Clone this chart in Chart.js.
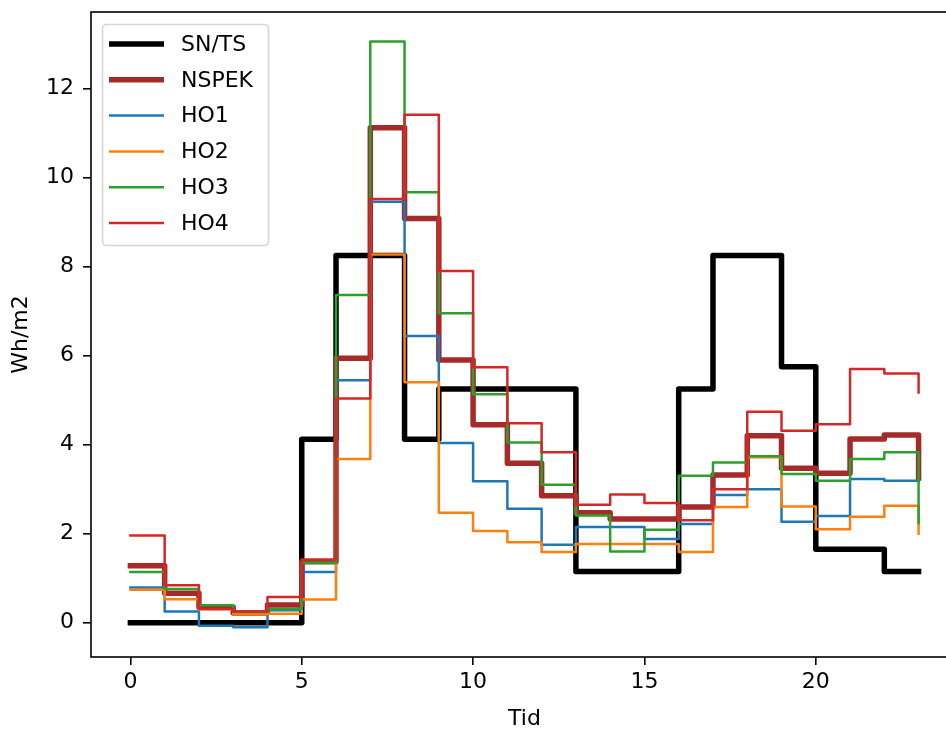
<!DOCTYPE html>
<html><head><meta charset="utf-8">
<script src="https://cdn.jsdelivr.net/npm/chart.js@4/dist/chart.umd.min.js"></script>
<style>html,body{margin:0;padding:0;overflow:hidden;background:#fff;} #wrap{width:960px;height:729px;}</style>
</head><body><div id="wrap"><canvas id="c" width="960" height="729" style="width:960px;height:729px"></canvas></div>
<script>
const hours = [0,1,2,3,4,5,6,7,8,9,10,11,12,13,14,15,16,17,18,19,20,21,22,23];
const seriesNames = ['SN/TS','NSPEK','HO1','HO2','HO3','HO4'];
const snts  = [0,0,0,0,0,4.12,8.25,8.25,4.12,5.25,5.25,5.25,5.25,1.15,1.15,1.15,5.25,8.25,8.25,5.75,1.65,1.65,1.15,1.15];
const nspek = [1.28,0.66,0.35,0.22,0.40,1.37,5.94,11.12,9.08,5.9,4.45,3.58,2.85,2.47,2.33,2.33,2.6,3.32,4.2,3.47,3.36,4.13,4.22,3.25];
const ho1   = [0.79,0.25,-0.07,-0.1,0.28,1.14,5.45,9.46,6.44,4.04,3.18,2.56,1.75,2.15,2.15,1.88,2.22,2.87,3.0,2.27,2.4,3.23,3.19,3.17];
const ho2   = [0.74,0.53,0.3,0.19,0.2,0.52,3.68,8.27,5.4,2.47,2.06,1.81,1.59,1.77,1.77,1.77,1.59,2.6,3.72,2.61,2.1,2.38,2.63,2.0];
const ho3   = [1.14,0.76,0.39,0.24,0.31,1.35,7.36,13.06,9.67,6.95,5.13,4.05,3.1,2.41,1.6,2.09,3.3,3.6,3.74,3.34,3.19,3.68,3.83,2.24];
const ho4   = [1.96,0.84,0.31,0.25,0.58,1.42,5.04,9.52,11.41,7.9,5.74,4.48,3.83,2.65,2.88,2.69,2.3,3.0,4.74,4.31,4.46,5.7,5.6,5.17];
const xTicks = [0,5,10,15,20];
const yTicks = [0,2,4,6,8,10,12];
const xTitle = 'Tid';
const yTitle = 'Wh/m2';

const seriesValues = [snts, nspek, ho1, ho2, ho3, ho4];
const colors = ['#000000','#a52a2a','#1f77b4','#ff7f0e','#2ca02c','#d62728'];
const widths = [5.5,5.5,2.5,2.5,2.5,2.5];
const FONT = "'DejaVu Sans', sans-serif";

const datasets = seriesValues.map((vals, i) => ({
  label: seriesNames[i],
  data: hours.map((h, j) => ({x: h, y: vals[j]})),
  borderColor: colors[i],
  backgroundColor: colors[i],
  borderWidth: widths[i],
  stepped: true,
  pointRadius: 0,
  fill: false,
  tension: 0,
  borderJoinStyle: 'round',
  borderCapStyle: 'square',
  order: seriesNames.length - i
}));

const framePlugin = {
  id: 'frame',
  afterDatasetsDraw(chart) {
    const ctx = chart.ctx, a = chart.chartArea;
    ctx.save();
    ctx.strokeStyle = '#000';
    ctx.lineWidth = 1.6;
    ctx.strokeRect(Math.round(a.left), Math.round(a.top), a.right - a.left, a.bottom - a.top);
    ctx.restore();
    // legend
    const x0 = a.left + 11.5, y0 = a.top + 12.5, w = 166, h = 221, r = 4;
    ctx.save();
    ctx.beginPath();
    ctx.moveTo(x0 + r, y0);
    ctx.lineTo(x0 + w - r, y0);
    ctx.arcTo(x0 + w, y0, x0 + w, y0 + r, r);
    ctx.lineTo(x0 + w, y0 + h - r);
    ctx.arcTo(x0 + w, y0 + h, x0 + w - r, y0 + h, r);
    ctx.lineTo(x0 + r, y0 + h);
    ctx.arcTo(x0, y0 + h, x0, y0 + h - r, r);
    ctx.lineTo(x0, y0 + r);
    ctx.arcTo(x0, y0, x0 + r, y0, r);
    ctx.closePath();
    ctx.fillStyle = 'rgba(255,255,255,0.8)';
    ctx.fill();
    ctx.strokeStyle = '#d6d6d6';
    ctx.lineWidth = 1.6;
    ctx.stroke();
    ctx.font = '22px ' + FONT;
    ctx.textBaseline = 'middle';
    ctx.textAlign = 'left';
    chart.data.datasets.forEach((ds, i) => {
      const yy = a.top + 32 + i * 35.8;
      ctx.beginPath();
      ctx.strokeStyle = ds.borderColor;
      ctx.lineWidth = ds.borderWidth;
      ctx.lineCap = 'butt';
      ctx.moveTo(a.left + 18, yy);
      ctx.lineTo(a.left + 73, yy);
      ctx.stroke();
      ctx.fillStyle = '#000';
      ctx.fillText(ds.label, a.left + 90, yy + 1);
    });
    ctx.restore();
  }
};

Chart.defaults.font.family = FONT;
Chart.defaults.color = '#000';

new Chart(document.getElementById('c'), {
  type: 'line',
  data: { datasets },
  options: {
    responsive: false,
    animation: false,
    devicePixelRatio: 1,
    events: [],
    layout: { padding: { left: 0, top: 12, right: 2, bottom: 0 } },
    plugins: { legend: { display: false }, tooltip: { enabled: false } },
    scales: {
      x: {
        type: 'linear',
        min: -1.15, max: 24.15,
        afterBuildTicks: s => { s.ticks = xTicks.map(v => ({value: v})); },
        afterFit: s => { s.height = 72; s.paddingLeft = 0; s.paddingRight = 0; s.paddingTop = 0; s.paddingBottom = 0; },
        ticks: { font: { size: 22 }, padding: 4, maxRotation: 0, autoSkip: false, callback: v => String(v) },
        grid: { drawOnChartArea: false, drawTicks: true, tickLength: 8, lineWidth: 1.6, color: '#000', tickColor: '#000' },
        border: { display: false },
        title: { display: true, text: xTitle, font: { size: 22 }, padding: { top: 0, bottom: -3 } }
      },
      y: {
        type: 'linear',
        min: -0.77, max: 13.72,
        afterBuildTicks: s => { s.ticks = yTicks.map(v => ({value: v})); },
        afterFit: s => { s.width = 91; s.paddingLeft = 0; s.paddingRight = 0; s.paddingTop = 0; s.paddingBottom = 0; },
        ticks: { font: { size: 22 }, padding: 9, autoSkip: false, callback: v => String(v) },
        grid: { drawOnChartArea: false, drawTicks: true, tickLength: 8, lineWidth: 1.6, color: '#000', tickColor: '#000' },
        border: { display: false },
        title: { display: true, text: yTitle, font: { size: 22 }, padding: { top: 8, bottom: 0 } }
      }
    }
  },
  plugins: [framePlugin]
});
</script>
</body></html>
